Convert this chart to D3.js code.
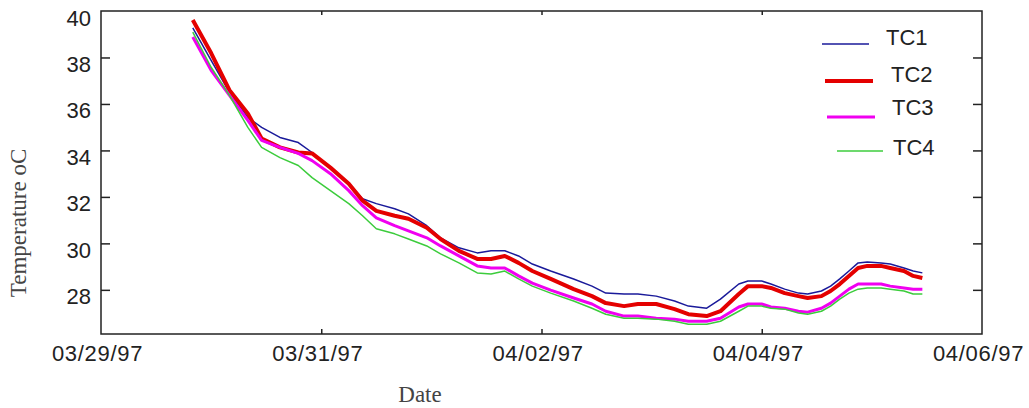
<!DOCTYPE html>
<html>
<head>
<meta charset="utf-8">
<script src="https://cdn.jsdelivr.net/npm/d3@7"></script>
<style>
  body { margin: 0; background: #fff; }
  svg { display: block; }
</style>
</head>
<body>
<svg id="chart" width="1029" height="408"></svg>
<script>
// hours since 03/29/97 00:00 for each reading
const hours = [20, 24, 28, 32, 35, 39, 43, 46, 50, 54, 57, 60, 64, 67, 71, 74, 78, 82, 85, 88,
  91, 94, 98, 103, 107, 110, 114, 117, 121, 125, 128, 132, 135, 139, 141, 144, 146, 149, 152,
  154, 157, 159, 161, 163, 165, 167, 170, 172, 175, 177, 179];

const tc1 = [39.27, 37.88, 36.50, 35.42, 34.99, 34.56, 34.34, 33.91, 33.26, 32.57, 31.92, 31.71,
  31.49, 31.27, 30.76, 30.24, 29.81, 29.59, 29.68, 29.68, 29.46, 29.11, 28.81, 28.47, 28.16,
  27.86, 27.82, 27.82, 27.73, 27.52, 27.30, 27.21, 27.60, 28.25, 28.38, 28.38, 28.25, 28.03,
  27.86, 27.82, 27.95, 28.16, 28.47, 28.81, 29.16, 29.20, 29.16, 29.11, 28.94, 28.81, 28.73];

const tc2 = [39.61, 38.19, 36.59, 35.59, 34.51, 34.13, 33.91, 33.87, 33.26, 32.57, 31.84, 31.40,
  31.19, 31.06, 30.67, 30.19, 29.68, 29.33, 29.33, 29.46, 29.16, 28.81, 28.47, 28.03, 27.73,
  27.43, 27.30, 27.39, 27.39, 27.17, 26.95, 26.87, 27.08, 27.82, 28.16, 28.16, 28.08, 27.86,
  27.73, 27.65, 27.73, 27.95, 28.25, 28.60, 28.94, 29.03, 29.03, 28.94, 28.81, 28.60, 28.51];

const tc3 = [38.88, 37.45, 36.37, 35.29, 34.43, 34.13, 33.87, 33.56, 33.00, 32.27, 31.62, 31.10,
  30.76, 30.54, 30.24, 29.89, 29.46, 29.03, 28.94, 28.94, 28.60, 28.29, 27.99, 27.65, 27.39,
  27.08, 26.87, 26.87, 26.78, 26.74, 26.65, 26.65, 26.78, 27.26, 27.39, 27.39, 27.26, 27.21,
  27.08, 27.04, 27.21, 27.43, 27.73, 28.03, 28.25, 28.25, 28.25, 28.16, 28.08, 28.03, 28.03];

const tc4 = [39.09, 37.58, 36.37, 34.99, 34.13, 33.69, 33.35, 32.83, 32.27, 31.71, 31.19, 30.63,
  30.41, 30.19, 29.89, 29.55, 29.16, 28.73, 28.68, 28.81, 28.47, 28.16, 27.86, 27.52, 27.21,
  26.95, 26.78, 26.78, 26.74, 26.65, 26.52, 26.52, 26.65, 27.08, 27.30, 27.30, 27.21, 27.17,
  27.00, 26.95, 27.08, 27.30, 27.60, 27.86, 28.03, 28.08, 28.08, 28.03, 27.95, 27.82, 27.82];

const seriesNames = ['TC1', 'TC2', 'TC3', 'TC4'];
const yTicks = [28, 30, 32, 34, 36, 38, 40];
const xTickDates = ['1997-03-29', '1997-03-31', '1997-04-02', '1997-04-04', '1997-04-06'];

const svg = d3.select('#chart');
const plotL = 101, plotR = 982, plotT = 11, plotB = 334;

const start = new Date(1997, 2, 29);
const x = d3.scaleTime()
  .domain([start, new Date(1997, 3, 6)])
  .range([plotL, plotR]);
const y = d3.scaleLinear().domain([26.1, 40]).range([plotB, plotT]);

const parse = d3.timeParse('%Y-%m-%d');
const xTicks = xTickDates.map(parse);
const fmt = d3.timeFormat('%m/%d/%y');

const styles = [
  { color: '#1a1a9a', width: 1.5 },
  { color: '#e40000', width: 4 },
  { color: '#f000f0', width: 3 },
  { color: '#3ccc3c', width: 1.5 }
];

// axes (ticks pointing inward)
const yLeft = svg.append('g').attr('transform', `translate(${plotL},0)`)
  .call(d3.axisLeft(y).tickValues(yTicks).tickSize(-9).tickPadding(10));
const yRight = svg.append('g').attr('transform', `translate(${plotR},0)`)
  .call(d3.axisRight(y).tickValues(yTicks.slice(0, -1)).tickSize(-9).tickFormat(''));
const xBottom = svg.append('g').attr('transform', `translate(0,${plotB})`)
  .call(d3.axisBottom(x).tickValues(xTicks).tickSize(-5).tickPadding(10).tickFormat(fmt));
const xTop = svg.append('g').attr('transform', `translate(0,${plotT})`)
  .call(d3.axisTop(x).tickValues(xTicks.slice(1, -1)).tickSize(-4).tickFormat(''));

[yLeft, yRight, xBottom, xTop].forEach(g => {
  g.select('.domain').remove();
  g.selectAll('.tick line').attr('stroke', '#222').attr('stroke-width', 1.5);
});
yLeft.select('.tick:last-of-type line').remove();
xBottom.selectAll('.tick:first-of-type line, .tick:last-of-type line').remove();

yLeft.selectAll('.tick text')
  .attr('font-family', 'Arial, "Liberation Sans", sans-serif')
  .attr('font-size', '22px')
  .attr('fill', '#222')
  .attr('y', 7);
xBottom.selectAll('.tick text')
  .attr('font-family', 'Arial, "Liberation Sans", sans-serif')
  .attr('font-size', '22px')
  .attr('letter-spacing', '0.7px')
  .attr('fill', '#222')
  .attr('dy', null)
  .attr('x', -4)
  .attr('y', 27);

// frame
svg.append('rect')
  .attr('x', plotL).attr('y', plotT)
  .attr('width', plotR - plotL).attr('height', plotB - plotT)
  .attr('fill', 'none')
  .attr('stroke', '#222')
  .attr('stroke-width', 1.5);

// series
const allSeries = [tc1, tc2, tc3, tc4];
const line = d3.line()
  .x(d => x(d3.timeHour.offset(start, d.h)))
  .y(d => y(d.v));

allSeries.forEach((vals, i) => {
  const pts = vals.map((v, j) => ({ h: hours[j], v }));
  svg.append('path')
    .datum(pts)
    .attr('d', line)
    .attr('fill', 'none')
    .attr('stroke', styles[i].color)
    .attr('stroke-width', styles[i].width)
    .attr('stroke-linejoin', 'round');
});

// legend
const legendPos = [
  { x1: 822, x2: 869, ly: 44, tx: 886, ty: 45 },
  { x1: 825, x2: 873, ly: 81, tx: 891, ty: 82 },
  { x1: 827, x2: 875, ly: 117, tx: 892, ty: 115 },
  { x1: 837, x2: 883, ly: 151, tx: 893, ty: 155 }
];
seriesNames.forEach((name, i) => {
  const p = legendPos[i];
  svg.append('line')
    .attr('x1', p.x1).attr('x2', p.x2)
    .attr('y1', p.ly).attr('y2', p.ly)
    .attr('stroke', styles[i].color)
    .attr('stroke-width', styles[i].width);
  svg.append('text')
    .attr('x', p.tx).attr('y', p.ty)
    .attr('font-family', 'Arial, "Liberation Sans", sans-serif')
    .attr('font-size', '22px')
    .attr('fill', '#222')
    .text(name);
});

// axis titles
svg.append('text')
  .attr('transform', 'translate(26,223) rotate(-90)')
  .attr('text-anchor', 'middle')
  .attr('font-family', '"Times New Roman", "Liberation Serif", serif')
  .attr('font-size', '23px')
  .attr('fill', '#444')
  .text('Temperature oC');

svg.append('text')
  .attr('x', 420).attr('y', 402)
  .attr('text-anchor', 'middle')
  .attr('font-family', '"Times New Roman", "Liberation Serif", serif')
  .attr('font-size', '23px')
  .attr('fill', '#444')
  .text('Date');
</script>
</body>
</html>
